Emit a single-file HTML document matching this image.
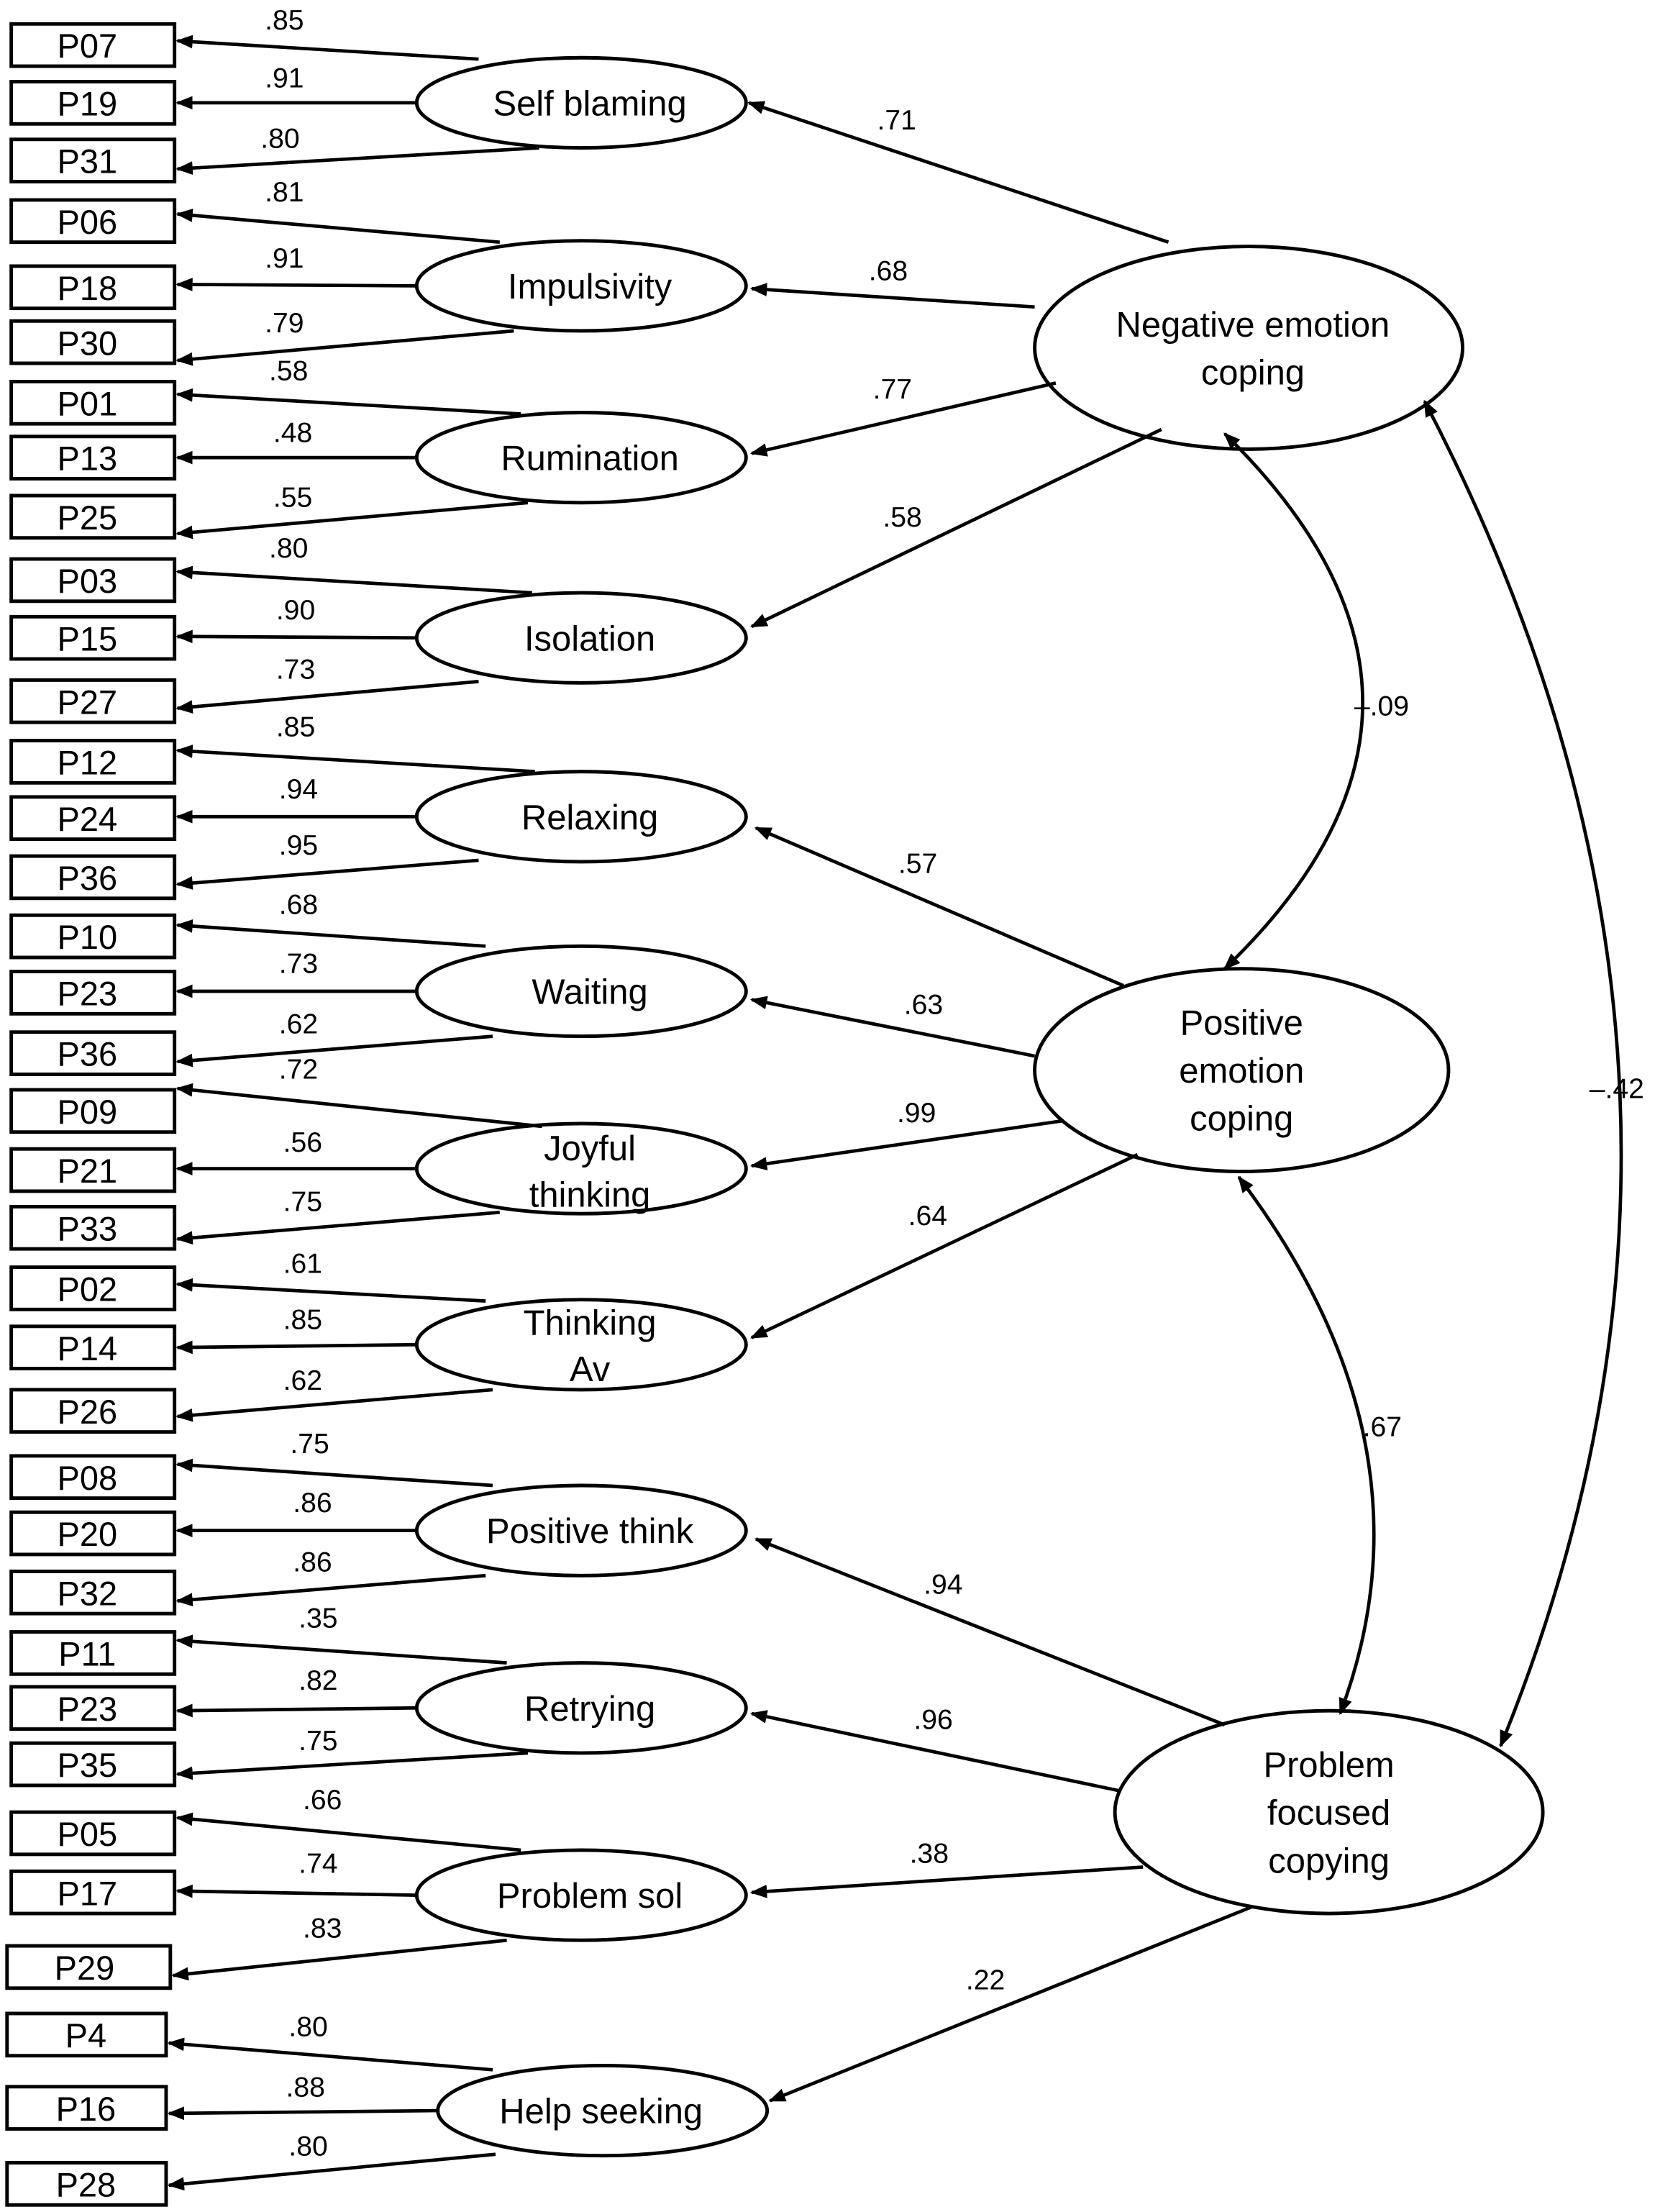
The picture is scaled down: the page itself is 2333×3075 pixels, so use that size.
<!DOCTYPE html>
<html><head><meta charset="utf-8"><style>
html,body{margin:0;padding:0;background:#fff}
svg{display:block}
text{font-family:"Liberation Sans",Arial,sans-serif;fill:#000}
.b{font-size:24px}
.l{font-size:20px}
.e{font-size:25px}
.E{font-size:25px}
</style></head><body>
<svg width="2333" height="3075" viewBox="0 0 1192 1571" preserveAspectRatio="none" xmlns="http://www.w3.org/2000/svg">
<defs>
<marker id="a" viewBox="0 0 10 10" refX="9" refY="5" markerWidth="5" markerHeight="5" orient="auto-start-reverse" markerUnits="strokeWidth"><path d="M0,1 L10,5 L0,9 z" fill="#000"/></marker>
</defs>
<g fill="#fff" stroke="#000" stroke-width="2.5">
<!-- boxes -->
<rect x="8" y="17" width="116" height="30"/><rect x="8" y="58" width="116" height="30"/><rect x="8" y="99" width="116" height="30"/>
<rect x="8" y="142" width="116" height="30"/><rect x="8" y="189" width="116" height="30"/><rect x="8" y="228" width="116" height="30"/>
<rect x="8" y="271" width="116" height="30"/><rect x="8" y="310" width="116" height="30"/><rect x="8" y="352" width="116" height="30"/>
<rect x="8" y="397" width="116" height="30"/><rect x="8" y="438" width="116" height="30"/><rect x="8" y="483" width="116" height="30"/>
<rect x="8" y="526" width="116" height="30"/><rect x="8" y="566" width="116" height="30"/><rect x="8" y="608" width="116" height="30"/>
<rect x="8" y="650" width="116" height="30"/><rect x="8" y="690" width="116" height="30"/><rect x="8" y="733" width="116" height="30"/>
<rect x="8" y="774" width="116" height="30"/><rect x="8" y="816" width="116" height="30"/><rect x="8" y="857" width="116" height="30"/>
<rect x="8" y="900" width="116" height="30"/><rect x="8" y="942" width="116" height="30"/><rect x="8" y="987" width="116" height="30"/>
<rect x="8" y="1034" width="116" height="30"/><rect x="8" y="1074" width="116" height="30"/><rect x="8" y="1116" width="116" height="30"/>
<rect x="8" y="1159" width="116" height="30"/><rect x="8" y="1198" width="116" height="30"/><rect x="8" y="1238" width="116" height="30"/>
<rect x="8" y="1287" width="116" height="30"/><rect x="8" y="1329" width="116" height="30"/><rect x="5" y="1382" width="116" height="30"/>
<rect x="5" y="1430" width="113" height="30"/><rect x="5" y="1482" width="113" height="30"/><rect x="5" y="1536" width="113" height="30"/>
<!-- ellipses -->
<ellipse cx="413" cy="73" rx="117" ry="32"/><ellipse cx="413" cy="203" rx="117" ry="32"/>
<ellipse cx="413" cy="325" rx="117" ry="32"/><ellipse cx="413" cy="453" rx="117" ry="32"/>
<ellipse cx="413" cy="580" rx="117" ry="32"/><ellipse cx="413" cy="704" rx="117" ry="32"/>
<ellipse cx="413" cy="830" rx="117" ry="32"/><ellipse cx="413" cy="955" rx="117" ry="32"/>
<ellipse cx="413" cy="1087" rx="117" ry="32"/><ellipse cx="413" cy="1213" rx="117" ry="32"/>
<ellipse cx="413" cy="1346" rx="117" ry="32"/><ellipse cx="428" cy="1499" rx="117" ry="32"/>
<ellipse cx="887" cy="247" rx="152" ry="72"/><ellipse cx="882" cy="760" rx="147" ry="72"/><ellipse cx="944" cy="1287" rx="152" ry="72"/>
</g>
<g stroke="#000" stroke-width="2.4" fill="none" marker-end="url(#a)">
<!-- indicator lines -->
<path d="M340,42 L126,29"/><path d="M296,73 L126,73"/><path d="M383,105 L126,120"/>
<path d="M355,172 L126,152"/><path d="M296,203 L126,202"/><path d="M365,235 L126,256"/>
<path d="M370,294 L126,280"/><path d="M296,325 L126,325"/><path d="M375,357 L126,379"/>
<path d="M378,421 L126,406"/><path d="M296,453 L126,452"/><path d="M340,484 L126,503"/>
<path d="M380,548 L126,533"/><path d="M296,580 L126,580"/><path d="M340,611 L126,628"/>
<path d="M345,672 L126,657"/><path d="M296,704 L126,704"/><path d="M350,736 L126,754"/>
<path d="M385,800 L126,773"/><path d="M296,830 L126,830"/><path d="M355,861 L126,880"/>
<path d="M345,924 L126,912"/><path d="M296,955 L126,957"/><path d="M350,987 L126,1006"/>
<path d="M350,1055 L126,1040"/><path d="M296,1087 L126,1087"/><path d="M345,1119 L126,1137"/>
<path d="M360,1181 L126,1165"/><path d="M296,1213 L126,1215"/><path d="M375,1245 L126,1260"/>
<path d="M370,1314 L126,1291"/><path d="M296,1346 L126,1343"/><path d="M360,1378 L123,1403"/>
<path d="M350,1470 L120,1451"/><path d="M311,1499 L120,1501"/><path d="M352,1530 L120,1552"/>
<!-- structural -->
<path d="M830,172 L532,73"/><path d="M735,218 L534,205"/><path d="M750,272 L534,322"/><path d="M825,305 L534,445"/>
<path d="M798,700 L537,588"/><path d="M735,750 L534,710"/><path d="M755,796 L534,828"/><path d="M808,820 L534,950"/>
<path d="M870,1225 L537,1093"/><path d="M796,1272 L534,1217"/><path d="M812,1326 L534,1344"/><path d="M890,1354 L547,1492"/>
<!-- covariances -->
<path marker-start="url(#a)" d="M870,308 Q1066,500 870,688"/>
<path marker-start="url(#a)" d="M880,836 Q1024,1026 952,1217"/>
<path marker-start="url(#a)" d="M1012,285 Q1261,762 1066,1240"/>
</g>
<g class="b" text-anchor="middle">
<text x="62" y="41">P07</text><text x="62" y="82">P19</text><text x="62" y="123">P31</text>
<text x="62" y="166">P06</text><text x="62" y="213">P18</text><text x="62" y="252">P30</text>
<text x="62" y="295">P01</text><text x="62" y="334">P13</text><text x="62" y="376">P25</text>
<text x="62" y="421">P03</text><text x="62" y="462">P15</text><text x="62" y="507">P27</text>
<text x="62" y="550">P12</text><text x="62" y="590">P24</text><text x="62" y="632">P36</text>
<text x="62" y="674">P10</text><text x="62" y="714">P23</text><text x="62" y="757">P36</text>
<text x="62" y="798">P09</text><text x="62" y="840">P21</text><text x="62" y="881">P33</text>
<text x="62" y="924">P02</text><text x="62" y="966">P14</text><text x="62" y="1011">P26</text>
<text x="62" y="1058">P08</text><text x="62" y="1098">P20</text><text x="62" y="1140">P32</text>
<text x="62" y="1183">P11</text><text x="62" y="1222">P23</text><text x="62" y="1262">P35</text>
<text x="62" y="1311">P05</text><text x="62" y="1353">P17</text><text x="60" y="1406">P29</text>
<text x="61" y="1454">P4</text><text x="61" y="1506">P16</text><text x="61" y="1560">P28</text>
</g>
<g class="l" text-anchor="middle">
<text x="202" y="21">.85</text><text x="202" y="62">.91</text><text x="199" y="105">.80</text>
<text x="202" y="143">.81</text><text x="202" y="190">.91</text><text x="202" y="236">.79</text>
<text x="205" y="270">.58</text><text x="208" y="314">.48</text><text x="208" y="360">.55</text>
<text x="205" y="396">.80</text><text x="210" y="440">.90</text><text x="210" y="482">.73</text>
<text x="210" y="523">.85</text><text x="212" y="567">.94</text><text x="212" y="607">.95</text>
<text x="212" y="649">.68</text><text x="212" y="691">.73</text><text x="212" y="734">.62</text>
<text x="212" y="766">.72</text><text x="215" y="818">.56</text><text x="215" y="860">.75</text>
<text x="215" y="904">.61</text><text x="215" y="944">.85</text><text x="215" y="987">.62</text>
<text x="220" y="1032">.75</text><text x="222" y="1074">.86</text><text x="222" y="1116">.86</text>
<text x="226" y="1156">.35</text><text x="226" y="1200">.82</text><text x="226" y="1243">.75</text>
<text x="229" y="1285">.66</text><text x="226" y="1330">.74</text><text x="229" y="1376">.83</text>
<text x="219" y="1446">.80</text><text x="217" y="1489">.88</text><text x="219" y="1531">.80</text>
<text x="637" y="92">.71</text><text x="631" y="199">.68</text><text x="634" y="283">.77</text><text x="641" y="374">.58</text>
<text x="652" y="620">.57</text><text x="656" y="720">.63</text><text x="651" y="797">.99</text><text x="659" y="870">.64</text>
<text x="670" y="1132">.94</text><text x="663" y="1228">.96</text><text x="660" y="1323">.38</text><text x="700" y="1413">.22</text>
</g>
<g class="l" text-anchor="start">
<text x="962" y="508">–.09</text><text x="968" y="1020">.67</text><text x="1129" y="780">–.42</text>
</g>
<g class="e" text-anchor="middle">
<text x="419" y="82">Self blaming</text><text x="419" y="212">Impulsivity</text>
<text x="419" y="334">Rumination</text><text x="419" y="462">Isolation</text>
<text x="419" y="589">Relaxing</text><text x="419" y="713">Waiting</text>
<text x="419" y="824">Joyful</text><text x="419" y="857">thinking</text>
<text x="419" y="948">Thinking</text><text x="419" y="981">Av</text>
<text x="419" y="1096">Positive think</text><text x="419" y="1222">Retrying</text>
<text x="419" y="1355">Problem sol</text><text x="427" y="1508">Help seeking</text>
<text x="890" y="239">Negative emotion</text><text x="890" y="273">coping</text>
<text x="882" y="735">Positive</text><text x="882" y="769">emotion</text><text x="882" y="803">coping</text>
<text x="944" y="1262">Problem</text><text x="944" y="1296">focused</text><text x="944" y="1330">copying</text>
</g>
</svg>
</body></html>
